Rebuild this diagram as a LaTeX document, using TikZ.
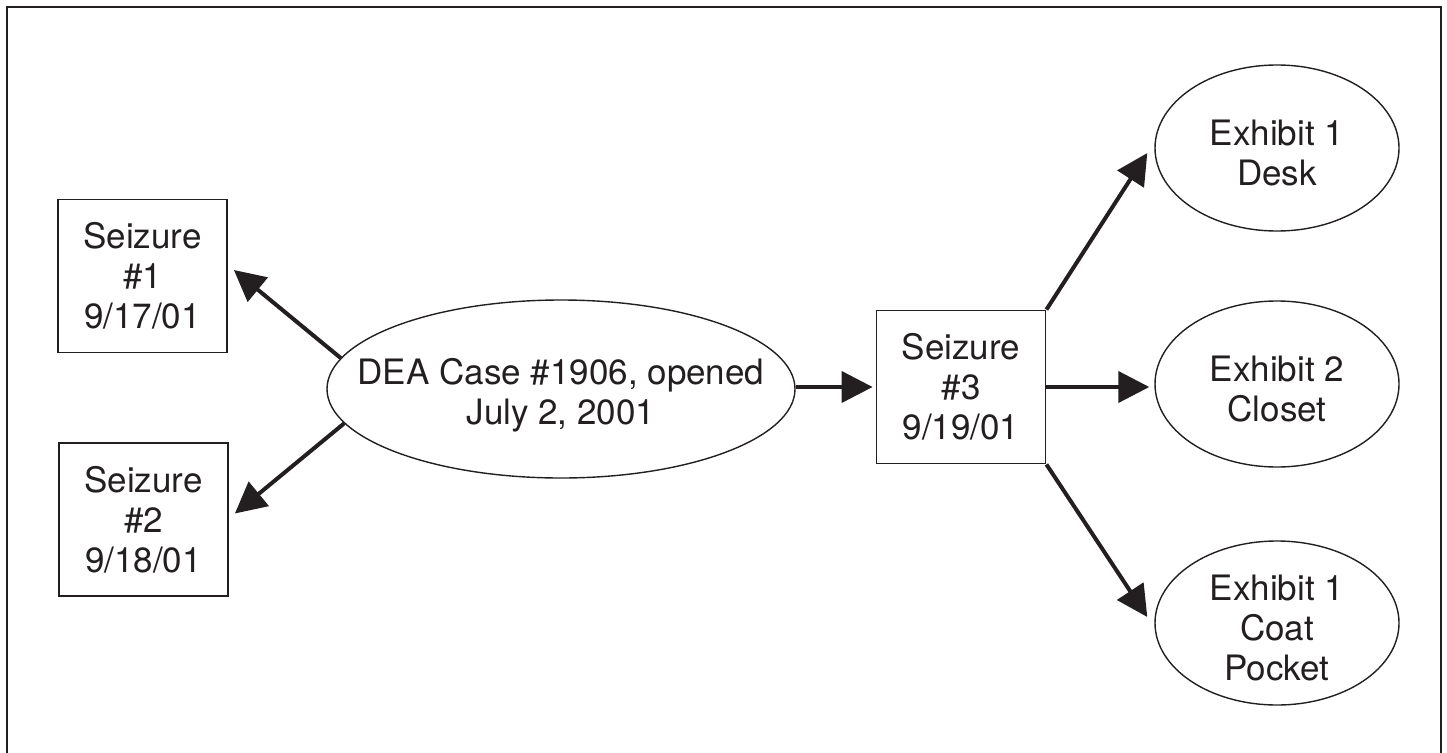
\documentclass[tikz,border=0pt]{standalone}
\usepackage{fontspec}
\setmainfont{TeX Gyre Heros}
\usetikzlibrary{arrows.meta,shapes.geometric,calc}
\definecolor{ink}{RGB}{35,31,32}
\begin{document}
\begin{tikzpicture}[x=1pt,y=-1pt,
  lbl/.style={font=\fontsize{35}{40}\selectfont, text=ink, align=center, inner sep=0pt},
  boxnode/.style={draw=ink, line width=1.8pt, rectangle, minimum width=169pt, minimum height=153pt, inner sep=0pt, lbl},
  ovalnode/.style={draw=ink, line width=1.4pt, ellipse, inner sep=0pt},
  arr/.style={draw=ink, line width=4pt, -{Triangle[length=31pt,width=31pt]}},
  frame/.style={draw=ink, line width=2.5pt}]
\useasboundingbox (0,0) rectangle (1447,752);
\draw[frame] (7,760) -- (7,7) -- (1441,7) -- (1441,760);

\node[boxnode] (s1) at (142.5,276) {Seizure\\\#1\\9/17/01};
\node[boxnode] (s2) at (143.5,519.5) {Seizure\\\#2\\9/18/01};
\node[boxnode] (s3) at (961,387) {Seizure\\\#3\\9/19/01};

\node[ovalnode, minimum width=468pt, minimum height=178pt] (dea) at (561,389) {};
\node[lbl] (deatext) at (561,395) {DEA Case \#1906, opened\\July 2, 2001};

\node[ovalnode, minimum width=244pt, minimum height=166pt] (ex1) at (1277,148) {};
\node[lbl] (ex1text) at (1277,153) {Exhibit 1\\Desk};
\node[ovalnode, minimum width=244pt, minimum height=166pt] (ex2) at (1277,384) {};
\node[lbl] (ex2text) at (1277,389) {Exhibit 2\\Closet};
\node[ovalnode, minimum width=244pt, minimum height=164pt] (ex3) at (1277,623) {};
\node[lbl] (ex3text) at (1277,628) {Exhibit 1\\Coat\\Pocket};

\draw[arr] (dea.172) -- ($(s1.east)+(6,-6)$);
\draw[arr] (dea.189) -- ($(s2.east)+(6,-6)$);
\draw[arr, shorten >=3pt] (dea.east |- s3.west) -- (s3.west);
\draw[arr, shorten >=5pt] (s3.east) -- (ex2.west |- s3.east);
\draw[arr] (s3.north east) -- ($(ex1.west)+(-7,5)$);
\draw[arr] (s3.south east) -- ($(ex3.west)+(-7,-6)$);
\end{tikzpicture}
\end{document}
